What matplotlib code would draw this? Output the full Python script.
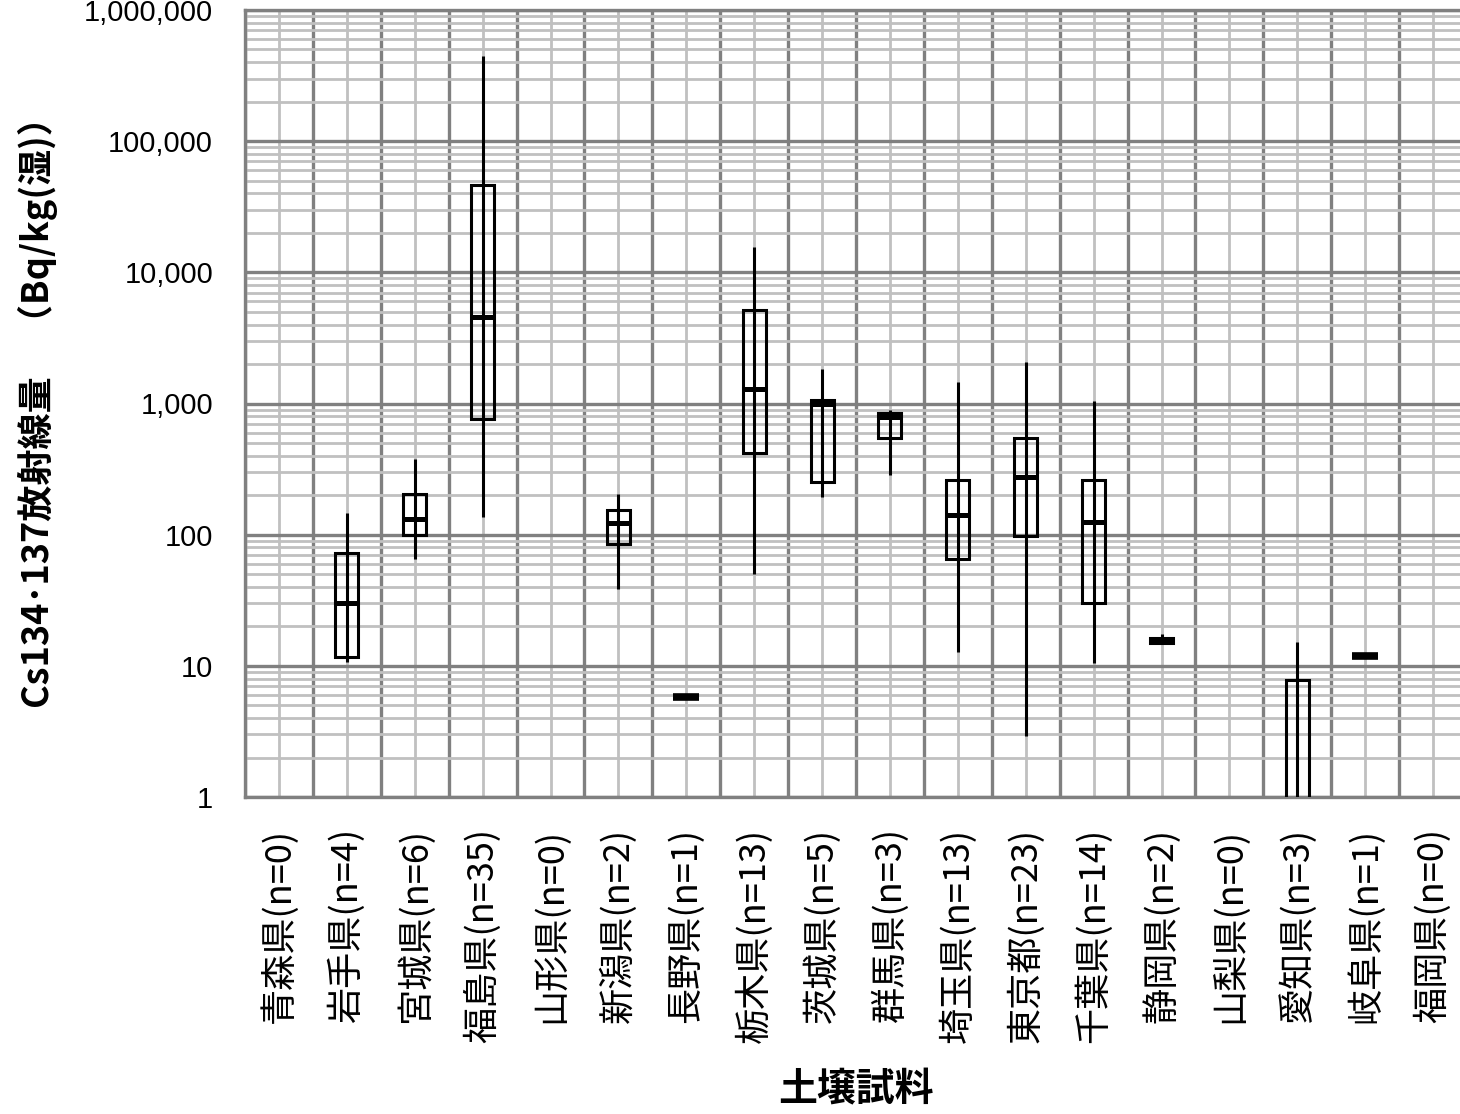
import numpy as np
import matplotlib
matplotlib.use("Agg")
import matplotlib.pyplot as plt
from matplotlib.ticker import FixedLocator, LogLocator, NullFormatter

plt.rcParams['font.family'] = ['Noto Sans CJK JP', 'DejaVu Sans']

categories = ["青森県(n=0)", "岩手県(n=4)", "宮城県(n=6)", "福島県(n=35)", "山形県(n=0)",
              "新潟県(n=2)", "長野県(n=1)", "栃木県(n=13)", "茨城県(n=5)", "群馬県(n=3)",
              "埼玉県(n=13)", "東京都(n=23)", "千葉県(n=14)", "静岡県(n=2)", "山梨県(n=0)",
              "愛知県(n=3)", "岐阜県(n=1)", "福岡県(n=0)"]
nan = np.nan
whishi = [nan, 146, 375, 444000, nan, 204, 5.8, 15700, 1830, 890, 1446, 2090, 1037, 17.6, nan, 15.2, 11.9, nan]
q3     = [nan, 72, 203, 46200, nan, 154, 5.8, 5120, 1062, 845, 260, 542, 260, 16.2, nan, 7.8, 11.9, nan]
med    = [nan, 30, 131, 4560, nan, 123, 5.8, 1290, 990, 787, 141, 274, 124, 15.6, nan, 0.8, 11.9, nan]
q1     = [nan, 11.6, 100, 760, nan, 85, 5.8, 419, 252, 545, 65, 97, 30, 15.0, nan, 0.5, 11.9, nan]
whislo = [nan, 10.7, 65, 136, nan, 38.5, 5.8, 50, 194, 285, 12.7, 2.9, 10.5, 15.0, nan, 0.3, 11.9, nan]

ytick_values = [1, 10, 100, 1000, 10000, 100000, 1000000]
ytick_labels = ["1", "10", "100", "1,000", "10,000", "100,000", "1,000,000"]
ylabel = "Cs134･137放射線量　（Bq/kg(湿)）"
xlabel = "土壌試料"

W, H = 1460, 1114
fig = plt.figure(figsize=(W/100, H/100), dpi=100)
ax_l, ax_r, ax_t, ax_b = 245, 1467, 10, 797
ax = fig.add_axes([ax_l/W, 1 - ax_b/H, (ax_r-ax_l)/W, (ax_b-ax_t)/H])

x = np.arange(len(categories))
ax.set_yscale('log')
ax.set_ylim(1, 1e6)
ax.set_xlim(-0.5, len(categories) - 0.5)

dark = '#808080'
light = '#c0c0c0'
ax.set_axisbelow(True)
ax.yaxis.set_major_locator(FixedLocator(ytick_values))
ax.set_yticklabels(ytick_labels, family=['Liberation Sans', 'DejaVu Sans'], fontsize=21)
ax.yaxis.set_minor_locator(LogLocator(base=10, subs=np.arange(2, 10), numticks=50))
ax.yaxis.set_minor_formatter(NullFormatter())
ax.set_xticks(x)
ax.set_xticklabels(categories, rotation=90, fontsize=26, va='top', ha='center')
ax.set_xticks(np.arange(len(categories) + 1) - 0.5, minor=True)

ax.grid(True, which='minor', axis='y', color=light, lw=2.0)
ax.grid(True, which='major', axis='x', color=light, lw=2.0)
ax.grid(True, which='major', axis='y', color=dark, lw=2.4)
ax.grid(True, which='minor', axis='x', color=dark, lw=2.4)
ax.tick_params(which='both', length=0)
ax.tick_params(axis='y', pad=23)
ax.tick_params(axis='x', pad=22)
for s in ax.spines.values():
    s.set_color(dark)
    s.set_linewidth(2.4)

bw = 0.34
for i in range(len(categories)):
    if np.isnan(med[i]):
        continue
    if q3[i] == q1[i]:
        ax.hlines(med[i], x[i] - bw/2 - 0.02, x[i] + bw/2 + 0.02, color='k', lw=5.5, zorder=3)
        continue
    ax.vlines(x[i], whislo[i], whishi[i], color='k', lw=2.2, zorder=3)
    ax.bar(x[i], q3[i] - q1[i], bottom=q1[i], width=bw, fill=False,
           edgecolor='k', lw=2.2, zorder=3)
    ax.hlines(med[i], x[i] - bw/2, x[i] + bw/2, color='k', lw=3.6, zorder=4)

ax.set_ylabel(ylabel, fontsize=26, fontweight='bold')
ax.yaxis.set_label_coords((58 - ax_l)/(ax_r - ax_l), 0.5)
ax.set_xlabel(xlabel, fontsize=28, fontweight='bold', va='top')
ax.xaxis.set_label_coords(0.5, -(1070 - ax_b)/(ax_b - ax_t))

fig.savefig("out.png", dpi=100)
